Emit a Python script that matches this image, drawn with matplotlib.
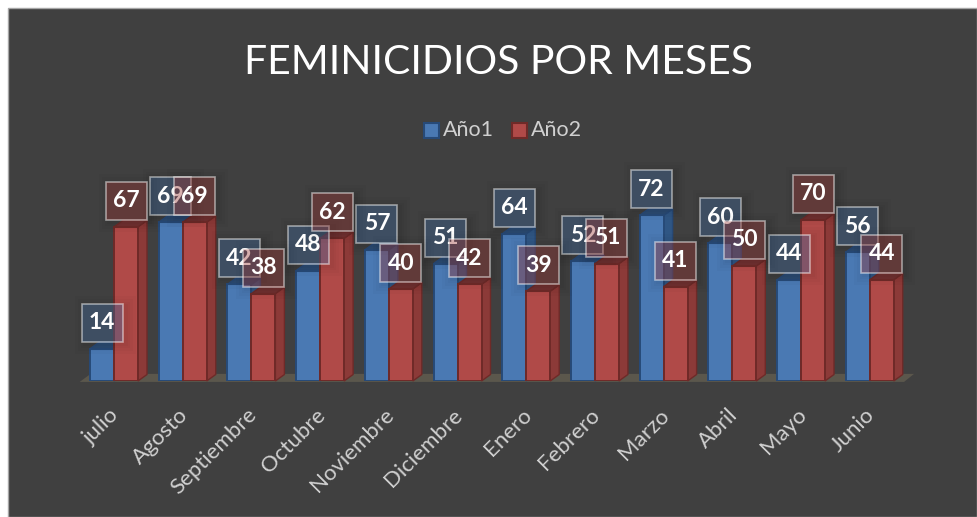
import matplotlib
matplotlib.use("Agg")
import matplotlib.pyplot as plt
from matplotlib.patches import Rectangle, Polygon
from matplotlib.transforms import ScaledTranslation

months = ["julio", "Agosto", "Septiembre", "Octubre", "Noviembre", "Diciembre",
          "Enero", "Febrero", "Marzo", "Abril", "Mayo", "Junio"]
anio1 = [14, 69, 42, 48, 57, 51, 64, 52, 72, 60, 44, 56]
anio2 = [67, 69, 38, 62, 40, 42, 39, 51, 41, 50, 70, 44]

W, H = 977, 517
FONT = "Lato"
plt.rcParams["font.family"] = [FONT, "DejaVu Sans"]
fig = plt.figure(figsize=(W / 100, H / 100), dpi=100, facecolor="white")

# dark chart area
fig.patches.append(Rectangle((8 / W, 0), (W - 8) / W, (H - 8) / H, transform=fig.transFigure,
                             facecolor="#404040", edgecolor="#a6a6a6", linewidth=1.0, zorder=-5))

# plot axes: category i centred at 114 + step*i, value 0 at y=381, 2.3 px per unit
step = 68.7
x0, x1 = 114 - 0.5 * step, 114 + 11.5 * step
y0 = 381
ytop = 80
ax = fig.add_axes([x0 / W, (H - y0) / H, (x1 - x0) / W, ytop * 2.3 / H])
ax.set_xlim(-0.5, 11.5)
ax.set_ylim(0, ytop)
ax.axis("off")

bw = 24 / step
dx = 9 / step
dy = 6.5 / 2.3

# floor
ax.add_patch(Polygon([(-0.5, -0.4), (11.5, -0.4), (11.5 + 10 / step, 3.1), (-0.5 + 11 / step, 3.1)],
                     closed=True, facecolor="#5b574c", edgecolor="none", zorder=1, clip_on=False))


def bar3d(i, v, left, front, side, top, edge, z):
    ax.bar(left, v, width=bw, align="edge", color=front, edgecolor=edge, linewidth=1.4, zorder=z + 0.2)
    r = left + bw
    ax.add_patch(Polygon([(r, 0), (r + dx, dy), (r + dx, v + dy), (r, v)], closed=True,
                         facecolor=side, edgecolor=edge, linewidth=1.0, zorder=z, clip_on=False))
    ax.add_patch(Polygon([(left, v), (r, v), (r + dx, v + dy), (left + dx, v + dy)], closed=True,
                         facecolor=top, edgecolor=edge, linewidth=1.0, zorder=z, clip_on=False))


for i in range(len(months)):
    bar3d(i, anio1[i], i - bw, "#4a79b3", "#2f5684", "#2b4c74", "#274a78", 2 + i * 0.01)
    bar3d(i, anio2[i], i, "#b04a48", "#8c3a38", "#733030", "#6f2a28", 3 + i * 0.01)


def label(x, v, tint, z):
    # fixed-size box measured in inches above the bar top
    tr = fig.dpi_scale_trans + ScaledTranslation(x, v, ax.transData)
    for grow in (0.10, 0.07, 0.04, 0.02):  # soft shadow
        ax.add_patch(Rectangle((-0.205 - grow + 0.03, 0.07 - grow - 0.02), 0.41 + 2 * grow, 0.38 + 2 * grow,
                               transform=tr, facecolor=(0, 0, 0, 0.018), edgecolor="none",
                               zorder=z - 0.05, clip_on=False))
    ax.add_patch(Rectangle((-0.205, 0.07), 0.41, 0.38, transform=tr, facecolor=tint,
                           edgecolor=(1, 1, 1, 0.5), linewidth=1.2, zorder=z, clip_on=False))
    ax.annotate(str(v), xy=(x, v), xytext=(0, 26 * 0.72), textcoords="offset points",
                ha="center", va="center", fontsize=16.5, fontweight="bold", color="white",
                zorder=z + 0.001, annotation_clip=False)


for i in range(len(months)):
    label(i - bw / 2, anio1[i], (0.29, 0.47, 0.70, 0.35), 10 + i * 0.01)
for i in range(len(months)):
    label(i + bw / 2, anio2[i], (0.69, 0.25, 0.24, 0.35), 11 + i * 0.01)

# category labels, rotated 45 degrees
ax.set_xticks([])
for i, m in enumerate(months):
    fig.text((114 + step * i + 2) / W, (H - 412) / H, m, rotation=45, rotation_mode="anchor",
             ha="right", va="center", fontsize=16, color="#d0d0d0")

fig.text(499 / W, (H - 63) / H, "FEMINICIDIOS POR MESES", ha="center", va="center",
         fontsize=29.4, color="white")

# legend
for sx, fc, ec, name in [(424, "#4a79b3", "#274a78", "Año1"), (512, "#b04a48", "#6f2a28", "Año2")]:
    fig.patches.append(Rectangle((sx / W, (H - 138) / H), 15 / W, 15 / H, transform=fig.transFigure,
                                 facecolor=fc, edgecolor=ec, linewidth=1.5))
    fig.text((sx + 19) / W, (H - 130) / H, name, ha="left", va="center", fontsize=15.5, color="#d0d0d0")

fig.savefig("out.png", dpi=100, facecolor="white")
